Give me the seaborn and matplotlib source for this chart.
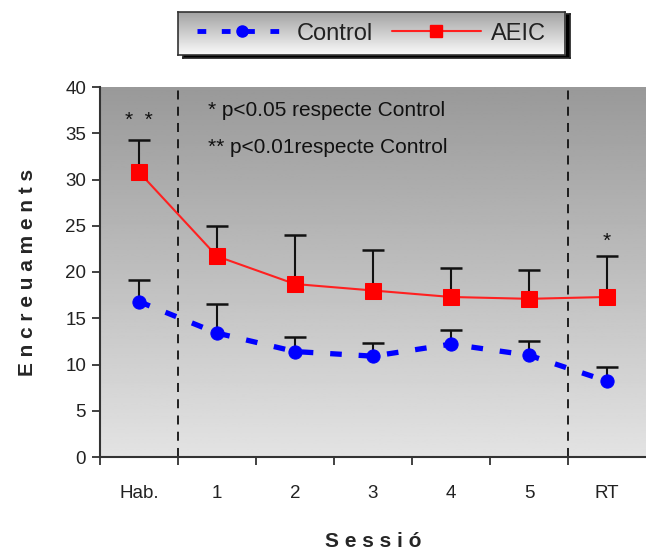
import numpy as np
import pandas as pd
import matplotlib
matplotlib.use("Agg")
import matplotlib.pyplot as plt
import seaborn as sns
from matplotlib.lines import Line2D

sessions = ["Hab.", "1", "2", "3", "4", "5", "RT"]
control_mean = [16.8, 13.4, 11.4, 10.9, 12.2, 11.0, 8.2]
control_err = [2.3, 3.1, 1.6, 1.4, 1.5, 1.5, 1.5]
aeic_mean = [30.8, 21.7, 18.7, 18.0, 17.3, 17.1, 17.3]
aeic_err = [3.5, 3.3, 5.3, 4.4, 3.1, 3.1, 4.4]
y_ticks = [0, 5, 10, 15, 20, 25, 30, 35, 40]

sns.set_theme(style="ticks")
plt.rcParams['font.family'] = ['Liberation Sans', 'DejaVu Sans']

fig = plt.figure(figsize=(6.46, 5.53), dpi=100)
W, H = 646, 553
ax = fig.add_axes([100 / W, (H - 457) / H, 546 / W, 370 / H])

pos = np.arange(len(sessions))
df = pd.DataFrame({
    "pos": np.concatenate([pos, pos]),
    "val": control_mean + aeic_mean,
    "Grup": ["Control"] * len(pos) + ["AEIC"] * len(pos),
})

# gradient background (dark at top, light at bottom)
grad = np.linspace(0.60, 0.89, 256).reshape(-1, 1)
ax.imshow(grad, extent=[-0.5, 6.5, 0, 40], origin="upper", cmap="gray",
          vmin=0, vmax=1, aspect="auto", zorder=0)

sns.lineplot(data=df, x="pos", y="val", hue="Grup", style="Grup",
             palette={"Control": "#0000ff", "AEIC": "#ff2020"},
             dashes={"Control": (2.2, 3.2), "AEIC": ""},
             markers={"Control": "o", "AEIC": "s"},
             ax=ax, legend=False, zorder=3)
for ln in ax.get_lines():
    c = matplotlib.colors.to_hex(ln.get_color())
    if c == "#0000ff":
        ln.set_linewidth(3.8)
        ln.set_markersize(9.5)
        ln.set_markeredgecolor("#0000ff")
    else:
        ln.set_linewidth(1.5)
        ln.set_markersize(11)
        ln.set_markeredgecolor("#ff0000")
        ln.set_markerfacecolor("#ff0000")

for means, errs in ((control_mean, control_err), (aeic_mean, aeic_err)):
    eb = ax.errorbar(pos, means, yerr=[np.zeros(len(pos)), errs],
                     fmt="none", ecolor="#111111", elinewidth=1.5, capsize=8,
                     capthick=1.8, zorder=2)
    eb[1][0].set_visible(False)

for xv in (0.5, 5.5):
    ax.axvline(xv, color="#111111", linestyle=(0, (5, 4)), linewidth=1.3, zorder=1)

ax.set_xlim(-0.5, 6.5)
ax.set_ylim(0, 40)
ax.set_yticks(y_ticks)
ax.set_yticklabels([str(t) for t in y_ticks], fontsize=13.5, color="#222222")
ax.set_xticks(np.arange(-0.5, 6.0, 1.0))
ax.set_xticklabels([])
ax.set_xticks(pos, minor=True)
ax.set_xticklabels(sessions, minor=True, fontsize=13.5, color="#222222")
ax.tick_params(axis="x", which="minor", length=0, pad=20)
ax.tick_params(axis="x", which="major", length=6, width=1.3, color="#333333")
ax.tick_params(axis="y", length=6, width=1.3, color="#333333", pad=4)
for s in ["top", "right"]:
    ax.spines[s].set_visible(False)
for s in ["left", "bottom"]:
    ax.spines[s].set_linewidth(1.5)
    ax.spines[s].set_color("#333333")

ax.set_xlabel("S e s s i ó", fontsize=15, fontweight="bold", labelpad=22)
ax.set_ylabel("E n c r e u a m e n t s", fontsize=15, fontweight="bold", labelpad=20)

ax.text(0.88, 37.5, "* p<0.05 respecte Control", fontsize=15, color="#111111",
        va="center", zorder=4)
ax.text(0.88, 33.5, "** p<0.01respecte Control", fontsize=15, color="#111111",
        va="center", zorder=4)
ax.text(0.0, 35.3, "*  *", fontsize=15, ha="center", va="bottom", color="#111111")
ax.text(6.0, 22.3, "*", fontsize=15, ha="center", va="bottom", color="#111111")

# legend box with gradient and shadow
shadow = fig.add_axes([183 / W, (H - 58) / H, 387 / W, 44 / H])
shadow.set_facecolor("black")
shadow.set_xticks([]); shadow.set_yticks([])
lax = fig.add_axes([178 / W, (H - 55) / H, 387 / W, 43 / H])
lgrad = np.linspace(0.63, 0.98, 256).reshape(-1, 1)
lax.imshow(lgrad, extent=[0, 1, 0, 1], origin="upper", cmap="gray",
           vmin=0, vmax=1, aspect="auto")
lax.set_xlim(0, 1); lax.set_ylim(0, 1)
lax.set_xticks([]); lax.set_yticks([])
for s in lax.spines.values():
    s.set_color("#333333"); s.set_linewidth(1.2)
handles = [
    Line2D([], [], color="#0000ff", lw=3.5, ls=(0, (1.8, 3.2)), marker="o", ms=8),
    Line2D([], [], color="#ff2020", lw=1.5, marker="s", ms=8, mfc="#ff0000", mec="#ff0000"),
]
lax.legend(handles, ["Control", "AEIC"], ncol=2, loc="center", frameon=False,
           fontsize=17, handlelength=3.8, columnspacing=0.8, handletextpad=0.4,
           labelcolor="#222222")

fig.savefig("out.png", dpi=100, facecolor="white")
